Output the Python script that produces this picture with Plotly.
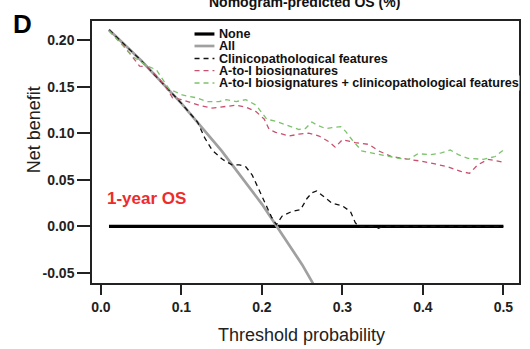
import plotly.graph_objects as go

# ---------------- data ----------------
t_none = [0.01, 0.50]
nb_none = [0.0, 0.0]

t_all = [0.01, 0.05, 0.10, 0.15, 0.20, 0.25, 0.30]
nb_all = [0.211, 0.178, 0.132, 0.081, 0.024, -0.041, -0.116]

t_clin = [0.01, 0.05, 0.10, 0.12, 0.129, 0.138, 0.151, 0.163, 0.172, 0.180, 0.188,
          0.197, 0.205, 0.212, 0.218, 0.225, 0.237, 0.248, 0.256, 0.262, 0.268,
          0.279, 0.287, 0.300, 0.310, 0.316, 0.320, 0.340, 0.345, 0.350, 0.500]
nb_clin = [0.211, 0.178, 0.132, 0.112, 0.095, 0.082, 0.072, 0.066, 0.066, 0.064, 0.055,
           0.038, 0.022, 0.010, 0.002, 0.011, 0.016, 0.018, 0.030, 0.036, 0.038,
           0.031, 0.025, 0.022, 0.016, 0.004, 0.000, 0.000, -0.002, 0.000, 0.000]

t_ai = [0.01, 0.027, 0.040, 0.048, 0.058, 0.071, 0.081, 0.089, 0.100, 0.110, 0.122,
        0.138, 0.151, 0.168, 0.180, 0.193, 0.203, 0.209, 0.217, 0.234, 0.246, 0.258,
        0.271, 0.283, 0.291, 0.300, 0.316, 0.333, 0.345, 0.361, 0.382, 0.398, 0.415,
        0.431, 0.447, 0.458, 0.468, 0.481, 0.500]
nb_ai = [0.210, 0.195, 0.181, 0.172, 0.171, 0.160, 0.149, 0.138, 0.136, 0.133, 0.130,
         0.127, 0.128, 0.130, 0.128, 0.123, 0.115, 0.104, 0.101, 0.097, 0.099, 0.100,
         0.097, 0.091, 0.085, 0.093, 0.090, 0.088, 0.081, 0.075, 0.072, 0.070, 0.067,
         0.064, 0.059, 0.057, 0.066, 0.072, 0.069]

t_comb = [0.01, 0.040, 0.058, 0.069, 0.075, 0.085, 0.091, 0.101, 0.119, 0.131, 0.147,
          0.156, 0.168, 0.180, 0.193, 0.200, 0.206, 0.217, 0.234, 0.246, 0.254, 0.262,
          0.268, 0.279, 0.287, 0.298, 0.304, 0.312, 0.324, 0.336, 0.353, 0.370, 0.382,
          0.394, 0.410, 0.423, 0.434, 0.444, 0.456, 0.475, 0.490, 0.500]
nb_comb = [0.210, 0.182, 0.172, 0.168, 0.160, 0.147, 0.145, 0.141, 0.138, 0.134, 0.134,
           0.136, 0.134, 0.136, 0.130, 0.122, 0.115, 0.113, 0.108, 0.104, 0.105, 0.112,
           0.109, 0.105, 0.106, 0.107, 0.102, 0.093, 0.081, 0.079, 0.076, 0.073, 0.072,
           0.078, 0.077, 0.079, 0.082, 0.077, 0.073, 0.072, 0.075, 0.082]

series_names = ["None", "All", "Clinicopathological features", "A-to-I biosignatures",
                "A-to-I biosignatures + clinicopathological features"]

x_ticks = [0.0, 0.1, 0.2, 0.3, 0.4, 0.5]
y_ticks = [-0.05, 0.0, 0.05, 0.10, 0.15, 0.20]

# ---------------- styles ----------------
W, H = 530, 349
L, T, R, B = 92, 21, 9, 66
PW, PH = W - L - R, H - T - B
FONT = "Liberation Sans, Arial, sans-serif"
DASH = "5px,4px"
styles = [
    dict(color="#000000", width=3.2, dash="solid"),
    dict(color="#a0a0a0", width=2.7, dash="solid"),
    dict(color="#111111", width=1.3, dash=DASH),
    dict(color="#c9506e", width=1.3, dash=DASH),
    dict(color="#7cc26c", width=1.3, dash=DASH),
]


def px(xp):
    return (xp - L) / PW


def py(yp):
    return (H - B - yp) / PH


fig = go.Figure()
for name, xs, ys, st in zip(series_names,
                            [t_none, t_all, t_clin, t_ai, t_comb],
                            [nb_none, nb_all, nb_clin, nb_ai, nb_comb],
                            styles):
    fig.add_trace(go.Scatter(x=xs, y=ys, mode="lines", name=name, line=st,
                             showlegend=False, cliponaxis=True))

axis_common = dict(showline=True, linecolor="#222222", linewidth=1.5, mirror=True,
                   ticks="outside", tickcolor="#222222", tickwidth=1.5,
                   showgrid=False, zeroline=False,
                   tickfont=dict(family=FONT, size=14, color="#222222", weight="bold"))
fig.update_xaxes(range=[-0.0111, 0.5194], tickvals=x_ticks,
                 ticktext=[f"{v:.1f}" for v in x_ticks], ticklen=10, **axis_common)
fig.update_yaxes(range=[-0.0607, 0.2204], tickvals=y_ticks,
                 ticktext=[f"{v:.2f}" for v in y_ticks], ticklen=13, **axis_common)

# manual compact legend
leg_y = [34, 46, 58.5, 70.7, 83]
for name, st, yy in zip(series_names, styles, leg_y):
    fig.add_shape(type="line", xref="paper", yref="paper",
                  x0=px(195), x1=px(215), y0=py(yy), y1=py(yy),
                  line=dict(color=st["color"], width=st["width"], dash=st["dash"]))
    fig.add_annotation(text=name, xref="paper", yref="paper", x=px(219), y=py(yy),
                       xanchor="left", yanchor="middle", showarrow=False,
                       bgcolor="white", borderpad=0,
                       font=dict(family=FONT, size=12.6, color="#111111", weight="bold"))

ann = [
    dict(text="Nomogram-predicted OS (%)", x=px(305), y=py(2), size=14, weight="bold",
         color="#111111", angle=0),
    dict(text="D", x=px(22), y=py(24), size=26, weight="bold", color="#000000", angle=0),
    dict(text="Net benefit", x=px(34), y=py(130), size=18, weight="normal",
         color="#222222", angle=-90),
    dict(text="Threshold probability", x=px(302), y=py(335), size=18, weight="normal",
         color="#222222", angle=0),
    dict(text="1-year OS", x=px(147), y=py(198), size=17, weight="bold",
         color="#ee2b2b", angle=0),
]
for a in ann:
    fig.add_annotation(text=a["text"], xref="paper", yref="paper", x=a["x"], y=a["y"],
                       xanchor="center", yanchor="middle", showarrow=False,
                       textangle=a["angle"],
                       font=dict(family=FONT, size=a["size"], color=a["color"],
                                 weight=a["weight"]))

fig.update_layout(width=W, height=H, margin=dict(l=L, r=R, t=T, b=B, pad=0),
                  plot_bgcolor="white", paper_bgcolor="white", showlegend=False)
fig.write_html("out.html")
